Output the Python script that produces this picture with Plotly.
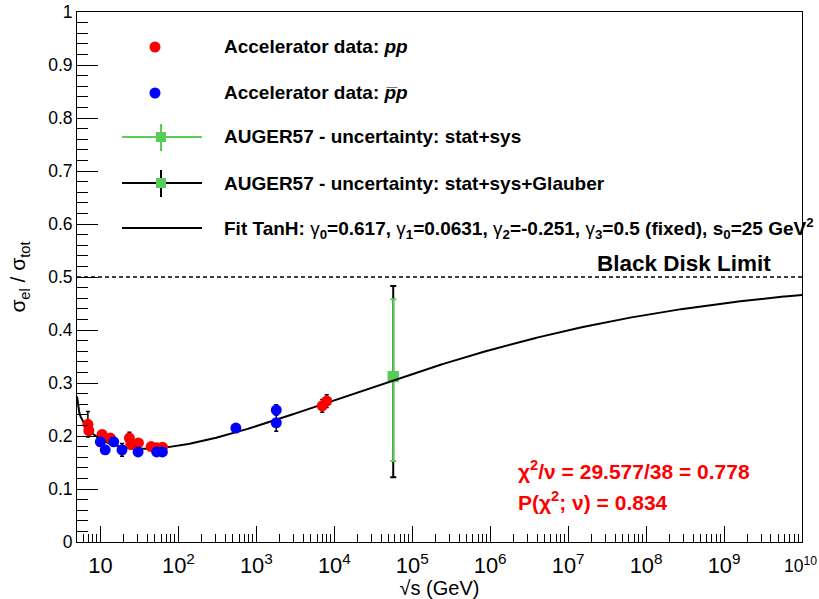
import numpy as np
import plotly.graph_objects as go

# ---------------- data: sigma_el / sigma_tot ----------------
# accelerator pp measurements
pp_sqrt_s = [6.9, 7.1, 10.5, 13.4, 23.5, 24.5, 30.7, 44.7, 52.8, 62.5, 7000, 8000]
pp_ratio = [0.222, 0.210, 0.203, 0.196, 0.196, 0.184, 0.187, 0.180, 0.178, 0.179, 0.257, 0.266]
pp_err = [0.024, 0.008, 0.006, 0.006, 0.011, 0.008, 0.006, 0.004, 0.004, 0.004, 0.012, 0.012]

# accelerator pbar-p measurements
ppbar_sqrt_s = [9.96, 11.5, 14.8, 18.9, 30.4, 52.6, 62.3, 546, 1800, 1800]
ppbar_ratio = [0.189, 0.174, 0.189, 0.174, 0.170, 0.170, 0.170, 0.215, 0.249, 0.225]
ppbar_err = [0.006, 0.006, 0.006, 0.012, 0.004, 0.004, 0.004, 0.008, 0.010, 0.016]

# Auger point at 57 TeV
auger_sqrt_s = [57000]
auger_ratio = [0.312]
auger_sys_up = [0.146]
auger_sys_down = [0.159]
auger_glauber_up = [0.171]
auger_glauber_down = [0.190]

# TanH fit parameters
g0, g1, g2, g3 = 0.617, 0.0631, -0.251, 0.5
s0 = 25.0
black_disk = 0.5
chi2, ndf, prob = 29.577, 38, 0.834

# ---------------- styling ----------------
FONT = "Liberation Sans"
RED = "#ff0000"
BLUE = "#0000ff"
GREEN = "#57cc57"

X_MIN = np.log10(5.0)
X_MAX = 10.0

# plot-area geometry in pixels, used to place legend items
W, H = 819, 599
ML, MR, MT, MB = 77, 17, 12, 57
PW, PH = W - ML - MR, H - MT - MB


def px(xp):
    return (xp - ML) / PW


def py(yp):
    return (H - MB - yp) / PH


def tanh_fit(sqrt_s):
    L = np.log(np.asarray(sqrt_s) ** 2 / s0)
    L = np.clip(L, 0, None)
    return black_disk * np.tanh(g0 + g1 * L + g2 * L ** g3)


fig = go.Figure()

# Auger: total uncertainty (stat+sys+Glauber) in black, stat+sys in green
fig.add_trace(go.Scatter(
    x=auger_sqrt_s, y=auger_ratio, mode="markers",
    marker=dict(symbol="square", size=11, color=GREEN),
    error_y=dict(type="data", symmetric=False, array=auger_glauber_up,
                 arrayminus=auger_glauber_down, color="black", thickness=2, width=3),
    showlegend=False, hoverinfo="skip"))
fig.add_trace(go.Scatter(
    x=auger_sqrt_s, y=auger_ratio, mode="markers",
    marker=dict(symbol="square", size=11, color=GREEN),
    error_y=dict(type="data", symmetric=False, array=auger_sys_up,
                 arrayminus=auger_sys_down, color=GREEN, thickness=2, width=3),
    showlegend=False, hoverinfo="skip"))

# fit curve
curve_x = np.logspace(X_MIN, X_MAX, 600)
fig.add_trace(go.Scatter(
    x=curve_x, y=tanh_fit(curve_x), mode="lines",
    line=dict(color="black", width=2), showlegend=False, hoverinfo="skip"))

# accelerator data
fig.add_trace(go.Scatter(
    x=pp_sqrt_s, y=pp_ratio, mode="markers",
    marker=dict(size=11, color=RED),
    error_y=dict(type="data", array=pp_err, color="black", thickness=1.5, width=2),
    showlegend=False))
fig.add_trace(go.Scatter(
    x=ppbar_sqrt_s, y=ppbar_ratio, mode="markers",
    marker=dict(size=11, color=BLUE),
    error_y=dict(type="data", array=ppbar_err, color="black", thickness=1.5, width=2),
    showlegend=False))

shapes = []
annotations = []

# black disk limit
shapes.append(dict(type="line", xref="paper", yref="y", x0=0, x1=1,
                   y0=black_disk, y1=black_disk,
                   line=dict(color="black", width=1.3, dash="4px,3px")))
annotations.append(dict(xref="paper", yref="paper", x=px(595), y=py(263),
                        xanchor="left", yanchor="middle", showarrow=False,
                        text="Black Disk Limit",
                        font=dict(family=FONT, size=22.5, color="black", weight="bold")))

# legend
LEG_SYM_X = 161
LEG_TXT_X = 222
leg_rows = [47, 93, 137, 183, 228]
legend_font = dict(family=FONT, size=19, color="black", weight="bold")


def dot(yc, color):
    shapes.append(dict(type="circle", xref="paper", yref="paper",
                       xsizemode="pixel", ysizemode="pixel",
                       xanchor=px(155), yanchor=py(yc),
                       x0=-5.5, x1=5.5, y0=-5.5, y1=5.5,
                       fillcolor=color, line=dict(width=0)))


def hline(yc, color):
    shapes.append(dict(type="line", xref="paper", yref="paper",
                       x0=px(122), x1=px(202), y0=py(yc), y1=py(yc),
                       line=dict(color=color, width=2)))


def vbar(yc, color):
    shapes.append(dict(type="line", xref="paper", yref="paper",
                       x0=px(LEG_SYM_X), x1=px(LEG_SYM_X), y0=py(yc - 13), y1=py(yc + 14),
                       line=dict(color=color, width=2)))


def square(yc):
    shapes.append(dict(type="rect", xref="paper", yref="paper",
                       xsizemode="pixel", ysizemode="pixel",
                       xanchor=px(LEG_SYM_X), yanchor=py(yc),
                       x0=-5, x1=5, y0=-5, y1=5,
                       fillcolor=GREEN, line=dict(width=0)))


dot(leg_rows[0], RED)
dot(leg_rows[1], BLUE)
hline(leg_rows[2], GREEN)
vbar(leg_rows[2], GREEN)
square(leg_rows[2])
hline(leg_rows[3], "black")
vbar(leg_rows[3], "black")
square(leg_rows[3])
hline(leg_rows[4], "black")


def gam(i):
    return '<span style="font-weight:normal">\u03b3</span><sub>%s</sub>' % i


legend_texts = [
    "Accelerator data: <i>pp</i>",
    "Accelerator data: <i>p\u0305p</i>",
    "AUGER57 - uncertainty: stat+sys",
    "AUGER57 - uncertainty: stat+sys+Glauber",
]
for yc, txt in zip(leg_rows, legend_texts):
    annotations.append(dict(xref="paper", yref="paper", x=px(LEG_TXT_X), y=py(yc),
                            xanchor="left", yanchor="middle", showarrow=False,
                            text=txt, font=legend_font))

fit_text = ("Fit TanH: %s=%s, %s=%s, %s=%s, %s=%s (fixed), s<sub>0</sub>=%g GeV<sup>2</sup>"
            % (gam(0), g0, gam(1), g1, gam(2), g2, gam(3), g3, s0))
annotations.append(dict(xref="paper", yref="paper", x=px(LEG_TXT_X), y=py(leg_rows[4]),
                        xanchor="left", yanchor="middle", showarrow=False,
                        text=fit_text, font=legend_font))

# fit quality
stat_font = dict(family=FONT, size=21, color=RED, weight="bold")
annotations.append(dict(xref="paper", yref="paper", x=px(516), y=py(470),
                        xanchor="left", yanchor="middle", showarrow=False,
                        text="\u03c7<sup>2</sup>/\u03bd = %.3f/%d = %.3f" % (chi2, ndf, chi2 / ndf),
                        font=stat_font))
annotations.append(dict(xref="paper", yref="paper", x=px(516), y=py(501),
                        xanchor="left", yanchor="middle", showarrow=False,
                        text="P(\u03c7<sup>2</sup>; \u03bd) = %.3f" % prob,
                        font=stat_font))

tick_font = dict(family=FONT, size=17.5, color="black")

# last decade label sits flush with the right edge of the canvas
annotations.append(dict(xref="paper", yref="paper", x=px(819), y=py(552),
                        xanchor="right", yanchor="top", showarrow=False,
                        text="10<sup>10</sup>", font=tick_font))

fig.update_layout(
    width=W, height=H,
    margin=dict(l=ML, r=MR, t=MT, b=MB),
    paper_bgcolor="white", plot_bgcolor="white",
    shapes=shapes, annotations=annotations,
    showlegend=False,
    xaxis=dict(
        type="log", range=[X_MIN, X_MAX + 1e-6], dtick=1, exponentformat="power",
        ticks="inside", ticklen=16, tickwidth=1, tickcolor="black",
        minor=dict(ticks="inside", ticklen=8, tickwidth=1, tickcolor="black", showgrid=False),
        showline=True, linecolor="black", linewidth=1, mirror=True,
        showgrid=False, zeroline=False, tickfont=tick_font,
        ticklabeloverflow="hide past domain", ticklabelstandoff=5,
        title=dict(text="\u221as (GeV)", font=dict(family=FONT, size=20, color="black"),
                   standoff=3),
        automargin=False,
    ),
    yaxis=dict(
        range=[0, 1], dtick=0.1,
        ticks="inside", ticklen=21, tickwidth=1, tickcolor="black",
        minor=dict(dtick=0.02, ticks="inside", ticklen=11, tickwidth=1, tickcolor="black",
                   showgrid=False),
        showline=True, linecolor="black", linewidth=1, mirror=True,
        showgrid=False, zeroline=False, tickfont=tick_font,
        title=dict(text="\u03c3<sub>el</sub> / \u03c3<sub>tot</sub>",
                   font=dict(family=FONT, size=21, color="black"), standoff=16),
        automargin=False,
    ),
)

fig.write_html("out.html")
